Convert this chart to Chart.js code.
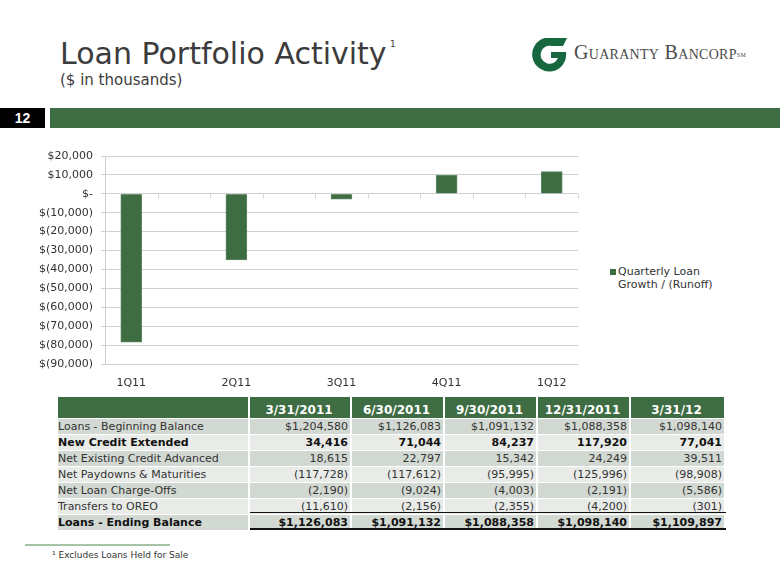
<!DOCTYPE html>
<html>
<head>
<meta charset="utf-8">
<script src="https://cdn.jsdelivr.net/npm/chart.js@4/dist/chart.umd.min.js"></script>
<style>
  html, body { margin: 0; padding: 0; background: #fff; }
  body { width: 780px; height: 585px; position: relative; overflow: hidden; font-family: "DejaVu Sans", Verdana, sans-serif; color: #333; }
  .abs { position: absolute; }
  #title { left: 60px; top: 39px; font-size: 30px; line-height: 30px; color: #3c3c3c; white-space: nowrap; }
  #title-sup { left: 390px; top: 40px; font-size: 9px; line-height: 9px; color: #3c3c3c; }
  #subtitle { left: 60px; top: 73px; font-size: 15px; line-height: 15px; color: #3c3c3c; }
  #logo { left: 532px; top: 37px; }
  #logo-text { left: 574px; top: 40px; font-family: "Liberation Serif", "DejaVu Serif", serif; font-size: 20px; line-height: 24px; color: #4a4a4a; font-variant: small-caps; letter-spacing: 0.3px; white-space: nowrap; }
  #logo-text sup { font-size: 6px; vertical-align: top; position: relative; top: 3px; }
  #pagenum { left: 0; top: 108px; width: 45px; height: 20px; background: #000; color: #fff; font: bold 14px "Liberation Sans", Arial, sans-serif; line-height: 20px; text-align: center; }
  #band { left: 50px; top: 108px; width: 730px; height: 20px; background: #3e6c43; }
  #chart-box { left: 0; top: 140px; width: 600px; height: 250px; }
  #legend { left: 610px; top: 266px; font-size: 11px; line-height: 12.5px; color: #333; }
  #legend .sw { position: absolute; left: 0; top: 3px; width: 6px; height: 6px; background: #3e6c43; }
  #legend .txt { position: absolute; left: 8px; top: 0; width: 110px; }
  table { position: absolute; left: 58px; top: 397px; border-collapse: separate; border-spacing: 0; font-size: 11px; }
  td, th { padding: 0 2px 0 0; height: 15.8px; line-height: 15px; border-right: 2px solid #fff; border-bottom: 1px solid #fff; box-sizing: border-box; white-space: nowrap; }
  th { background: #3e6c43; color: #fff; font-size: 12px; font-weight: bold; height: 22px; vertical-align: bottom; text-align: center; line-height: 16px; }
  td.lbl { text-align: left; padding-left: 0; }
  td.num { text-align: right; }
  tr.dark td { background: #d2d8d2; }
  tr.light td { background: #e8ebe8; }
  tr.bold td { font-weight: bold; color: #111; }
  .rule { position: absolute; background: #111; }
  #fn-line { left: 25px; top: 544px; width: 145px; height: 2px; background: #a6c3a6; }
  #fn { left: 52px; top: 550px; font-size: 9px; color: #333; }
</style>
</head>
<body>
<div id="title" class="abs">Loan Portfolio Activity</div>
<div id="title-sup" class="abs">1</div>
<div id="subtitle" class="abs">($ in thousands)</div>
<svg id="logo" class="abs" width="36" height="36" viewBox="0 0 36 36">
  <path fill="#17673f" fill-rule="evenodd"
    d="M13 1 L35 1 L31 9 L20 9 A9 9 0 1 0 26 21 L19 21 L19 15 L34 15 A17 17 0 1 1 13 1 Z"/>
</svg>
<div id="logo-text" class="abs">Guaranty Bancorp<sup>SM</sup></div>
<div id="pagenum" class="abs">12</div>
<div id="band" class="abs"></div>

<div id="chart-box" class="abs"><canvas id="chart" width="600" height="250"></canvas></div>
<div id="legend" class="abs"><div class="sw"></div><div class="txt" id="legend-txt"></div></div>

<table id="tbl"></table>
<div class="rule" style="left:250px; top:512px; width:476px; height:1px;"></div>
<div class="rule" style="left:250px; top:528px; width:476px; height:2px;"></div>

<div id="fn-line" class="abs"></div>
<div id="fn" class="abs">¹ Excludes Loans Held for Sale</div>

<script>
// ── Data ─────────────────────────────────────────────────────────────────────
const quarters    = ['1Q11', '2Q11', '3Q11', '4Q11', '1Q12'];
const growth      = [-78497, -34951, -2774, 9782, 11757];
const seriesLabel = 'Quarterly Loan Growth / (Runoff)';
const yMin = -90000, yMax = 20000, yStep = 10000;

const periods   = ['3/31/2011', '6/30/2011', '9/30/2011', '12/31/2011', '3/31/12'];
const rowLabels = [
  'Loans - Beginning Balance',
  'New Credit Extended',
  'Net Existing Credit Advanced',
  'Net Paydowns & Maturities',
  'Net Loan Charge-Offs',
  'Transfers to OREO',
  'Loans - Ending Balance',
];
const beginBal   = ['$1,204,580', '$1,126,083', '$1,091,132', '$1,088,358', '$1,098,140'];
const newCredit  = ['34,416', '71,044', '84,237', '117,920', '77,041'];
const netAdvance = ['18,615', '22,797', '15,342', '24,249', '39,511'];
const paydowns   = ['(117,728)', '(117,612)', '(95,995)', '(125,996)', '(98,908)'];
const chargeOffs = ['(2,190)', '(9,024)', '(4,003)', '(2,191)', '(5,586)'];
const toOreo     = ['(11,610)', '(2,156)', '(2,355)', '(4,200)', '(301)'];
const endBal     = ['$1,126,083', '$1,091,132', '$1,088,358', '$1,098,140', '$1,109,897'];
const boldRows   = [1, 6];

// ── Colours ──────────────────────────────────────────────────────────────────
const BAR   = '#3e6c43';
const GRID  = '#cfcfcf';
const LABEL = '#333333';

function fmtMoney(v) {
  if (v === 0) return '$-';
  const s = Math.abs(v).toLocaleString('en-US');
  return v < 0 ? '$(' + s + ')' : '$' + s;
}

// ── Chart ────────────────────────────────────────────────────────────────────
// small tick marks hanging from the zero line, every half category
const zeroTicks = {
  id: 'zeroTicks',
  afterDraw(chart) {
    const x = chart.scales.x, y = chart.scales.y;
    const y0 = Math.round(y.getPixelForValue(0)) + 0.5;
    const ctx = chart.ctx;
    ctx.save();
    ctx.strokeStyle = GRID;
    ctx.lineWidth = 1;
    ctx.beginPath();
    for (let v = x.min; v <= x.max + 1e-6; v += 0.5) {
      const px = Math.round(x.getPixelForValue(v)) + 0.5;
      ctx.moveTo(px, y0);
      ctx.lineTo(px, y0 + 4);
    }
    ctx.stroke();
    ctx.restore();
  },
};

new Chart(document.getElementById('chart').getContext('2d'), {
  type: 'bar',
  data: {
    datasets: [{
      label: seriesLabel,
      data: quarters.map((q, i) => ({ x: i, y: growth[i] })),
      backgroundColor: BAR,
      borderColor: '#5d8a61',
      borderWidth: 1,
      barThickness: 21,
    }],
  },
  options: {
    responsive: false,
    animation: false,
    devicePixelRatio: 1,
    layout: { padding: { top: 16, right: 22, bottom: 0, left: 0 } },
    plugins: { legend: { display: false }, tooltip: { enabled: false } },
    scales: {
      x: {
        type: 'linear',
        offset: false,
        min: -0.25,
        max: quarters.length - 0.75,
        grid: { display: false, offset: false },
        border: { display: false },
        afterBuildTicks: s => { s.ticks = quarters.map((q, i) => ({ value: i })); },
        afterFit: s => { s.height = 26; },
        ticks: {
          autoSkip: false,
          maxRotation: 0,
          padding: 5,
          color: LABEL,
          font: { family: 'DejaVu Sans', size: 11 },
          callback: v => quarters[v],
        },
      },
      y: {
        min: yMin,
        max: yMax,
        afterFit: s => { s.width = 105; },
        grid: { color: GRID, tickLength: 4, tickColor: GRID },
        border: { color: GRID },
        ticks: {
          stepSize: yStep,
          padding: 8,
          color: LABEL,
          font: { family: 'DejaVu Sans', size: 11 },
          callback: fmtMoney,
        },
      },
    },
  },
  plugins: [zeroTicks],
});

document.getElementById('legend-txt').textContent = seriesLabel;

// ── Table ────────────────────────────────────────────────────────────────────
const rows = [beginBal, newCredit, netAdvance, paydowns, chargeOffs, toOreo, endBal];
const colWidths = [192, 102, 93, 93, 93, 95];
const tbl = document.getElementById('tbl');
tbl.innerHTML =
  '<tr>' + ['', ...periods].map((p, i) =>
    `<th style="width:${colWidths[i]}px">${p}</th>`).join('') + '</tr>' +
  rows.map((vals, r) => `
    <tr class="${r % 2 === 0 ? 'dark' : 'light'}${boldRows.includes(r) ? ' bold' : ''}">
      <td class="lbl">${rowLabels[r].replace('&', '&amp;')}</td>
      ${vals.map(v => `<td class="num">${v}</td>`).join('')}
    </tr>`).join('');
</script>
</body>
</html>
